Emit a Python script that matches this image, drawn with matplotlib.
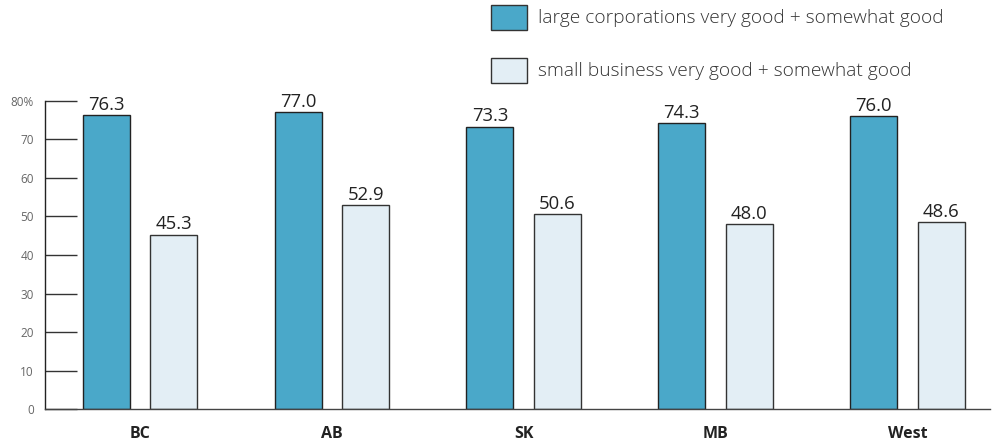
import matplotlib
matplotlib.use("Agg")
import matplotlib.pyplot as plt
import numpy as np

categories = ["BC", "AB", "SK", "MB", "West"]
large_corp = [76.3, 77.0, 73.3, 74.3, 76.0]
small_biz = [45.3, 52.9, 50.6, 48.0, 48.6]
y_ticks = [0, 10, 20, 30, 40, 50, 60, 70, 80]
y_tick_labels = ["0", "10", "20", "30", "40", "50", "60", "70", "80%"]
series_names = ["large corporations very good + somewhat good",
                "small business very good + somewhat good"]

plt.rcParams["font.family"] = ["Open Sans", "DejaVu Sans"]

fig = plt.figure(figsize=(10.02, 4.42), dpi=100)
ax = fig.add_axes([45 / 1002, 32.7 / 442, (990 - 45) / 1002, 308.6 / 442])

x = np.arange(len(categories))
w = 0.245
off = 0.176
c_large = "#4aa8c9"
c_small = "#e3eef5"

b1 = ax.bar(x - off, large_corp, w, color=c_large, edgecolor="#222222", linewidth=1.0)
b2 = ax.bar(x + off, small_biz, w, color=c_small, edgecolor="#333333", linewidth=1.0)

for bars, vals in ((b1, large_corp), (b2, small_biz)):
    for r, v in zip(bars, vals):
        ax.text(r.get_x() + r.get_width() / 2, v + 0.3, f"{v:.1f}",
                ha="center", va="bottom", fontsize=13.3, color="#222222")

ax.set_xlim(-0.495, 4.43)
ax.set_ylim(0, 80)
ax.set_yticks(y_ticks)
ax.set_yticklabels(y_tick_labels)
ax.tick_params(axis="y", direction="in", length=23, width=1.0, color="#333333",
               labelsize=8.5, labelcolor="#666666", pad=8)
ax.set_xticks(x)
ax.set_xticklabels(categories, fontweight="bold", fontsize=11.5, color="#222222")
ax.tick_params(axis="x", length=0, pad=12)
for s in ("top", "right"):
    ax.spines[s].set_visible(False)
ax.spines["left"].set_color("#222222")
ax.spines["bottom"].set_color("#444444")
ax.spines["left"].set_linewidth(1.0)
ax.spines["bottom"].set_linewidth(1.0)

# legend drawn as boxes plus labels in figure coordinates
for i, (name, col) in enumerate(zip(series_names, [c_large, c_small])):
    top = 5 + i * 53
    rect = plt.Rectangle((491 / 1002, 1 - (top + 25) / 442), 36 / 1002, 25 / 442,
                         transform=fig.transFigure, facecolor=col,
                         edgecolor="#333333", linewidth=1.0)
    fig.patches.append(rect)
    fig.text(538 / 1002, 1 - (top + 13) / 442, name, ha="left", va="center",
             fontsize=13.8, color="#333333", fontweight="light")

fig.savefig("out.png", dpi=100)
